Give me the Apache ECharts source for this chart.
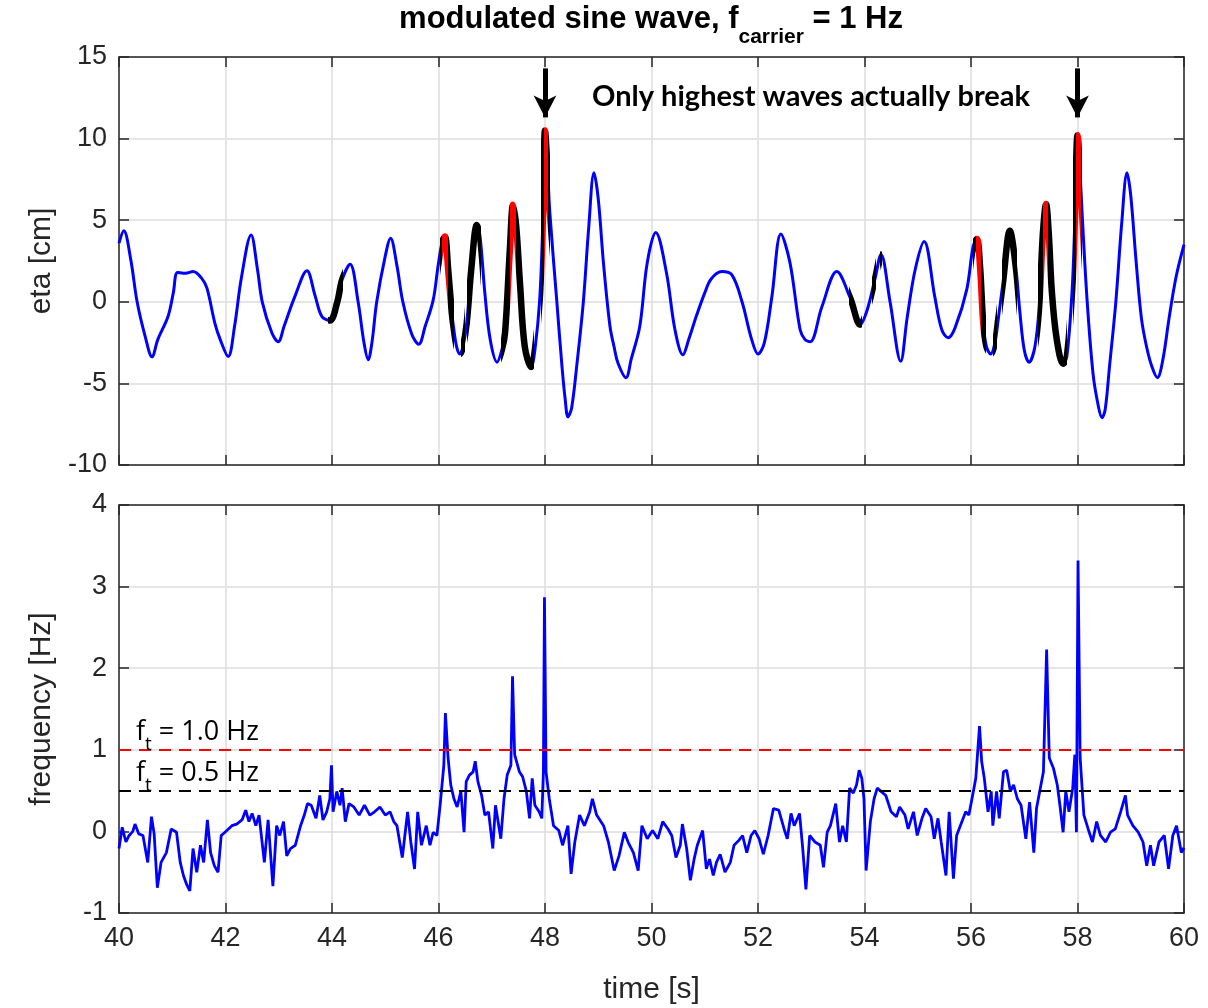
<!DOCTYPE html>
<html>
<head>
<meta charset="utf-8">
<script src="https://cdn.jsdelivr.net/npm/echarts@6/dist/echarts.min.js"></script>
<style>
html,body{margin:0;padding:0;background:#fff;}
#chart{width:1208px;height:1008px;}
</style>
</head>
<body>
<div id="chart"></div>
<script>
// ---- data ----
var xTicks = [40, 42, 44, 46, 48, 50, 52, 54, 56, 58, 60];
var etaTicks = [-10, -5, 0, 5, 10, 15];
var freqTicks = [-1, 0, 1, 2, 3, 4];

var etaT = [40.00,40.09,40.22,40.34,40.49,40.62,40.73,40.92,41.02,41.10,41.25,41.39,41.55,41.65,41.80,41.90,42.05,42.17,42.30,42.48,42.60,42.69,42.87,42.99,43.10,43.30,43.53,43.68,43.81,43.96,44.10,44.19,44.34,44.49,44.60,44.68,44.75,44.84,45.00,45.10,45.22,45.33,45.50,45.63,45.75,45.90,45.99,46.07,46.12,46.18,46.25,46.28,46.34,46.40,46.46,46.53,46.62,46.72,46.78,46.87,46.97,47.10,47.19,47.25,47.34,47.40,47.46,47.53,47.62,47.74,47.81,47.90,47.96,48.00,48.05,48.09,48.22,48.32,48.38,48.43,48.50,48.60,48.72,48.82,48.92,49.00,49.10,49.22,49.30,49.37,49.52,49.62,49.78,49.92,50.08,50.28,50.44,50.59,50.70,50.85,51.00,51.12,51.32,51.51,51.70,51.88,52.00,52.12,52.26,52.43,52.60,52.79,52.88,52.98,53.20,53.48,53.73,53.92,54.05,54.20,54.31,54.48,54.68,54.80,54.95,55.12,55.32,55.45,55.57,55.70,55.92,56.04,56.11,56.17,56.23,56.29,56.37,56.45,56.51,56.60,56.73,56.84,56.92,57.00,57.09,57.20,57.28,57.35,57.41,57.46,57.52,57.61,57.73,57.80,57.90,57.95,58.00,58.05,58.09,58.18,58.29,58.38,58.46,58.52,58.60,58.72,58.83,58.93,59.00,59.10,59.20,59.30,59.40,59.50,59.60,59.72,59.85,60.00];
var etaV = [3.6,4.35,2.6,0,-2.1,-3.37,-2.3,-0.9,0.55,1.8,1.75,1.85,1.45,0.85,-1.3,-2.3,-3.35,-1.5,1.5,4.1,2.0,0,-1.9,-2.45,-1.5,0.3,1.9,0.4,-0.9,-1.15,0,1.35,2.3,0,-2.5,-3.55,-2.5,0,2.8,3.9,2.2,0,-2.0,-2.6,-1.5,0.1,2.15,3.7,4.0,2.05,-0.7,-1.5,-2.75,-3.2,-2.75,-1.3,2.15,4.7,4.0,0.55,-2.3,-3.7,-2.95,-1.9,3.2,5.95,4.6,1.15,-2.75,-4.0,-2.95,0.1,5.0,10.5,8.0,5.5,0.1,-4.0,-6.0,-7.05,-6.5,-3.8,0,4.5,7.9,6.3,2.3,-1.5,-2.8,-3.75,-4.65,-3.5,-1.5,2.4,4.25,1.8,-1.7,-3.25,-2.3,-0.8,0.55,1.4,1.85,1.65,0,-2.3,-3.2,-2.5,0.3,4.15,2.4,-1.7,-2.3,-2.45,-0.3,1.85,0.25,-1.4,-0.5,1.45,2.9,0,-3.65,-1.0,1.95,3.7,0.3,-1.7,-2.2,-1.6,0.75,3.4,3.85,2.15,-1.3,-2.75,-3.2,-2.5,-1.1,1.15,4.35,2.15,-0.7,-2.95,-3.7,-2.75,-0.3,4.2,6.0,4.2,0.55,-2.3,-3.8,-3.35,0.75,5.0,10.2,7.8,5.2,0.1,-4.35,-6.2,-7.1,-6.6,-4.0,0,4.8,7.9,6.5,2.5,-1.0,-2.8,-4.0,-4.65,-3.6,-1.0,1.5,3.5];

// time intervals marked on the eta trace
var trackedRanges = [[43.93,44.20],[46.03,46.07],[46.18,46.29],[46.42,46.50],[46.53,46.80],[47.17,47.34],[47.46,47.80],[47.92,47.975],[48.065,48.09],[53.70,53.96],[54.15,54.22],[54.29,54.33],[56.03,56.09],[56.18,56.28],[56.41,56.48],[56.58,56.86],[57.26,57.35],[57.45,57.80],[57.91,57.975],[58.06,58.08]];
var breakingRanges = [[46.07,46.18],[47.34,47.46],[47.975,48.065],[56.09,56.18],[57.35,57.45],[57.975,58.06]];

var freqT = [40.00,40.06,40.13,40.19,40.26,40.30,40.37,40.45,40.54,40.61,40.66,40.72,40.79,40.89,40.98,41.08,41.15,41.21,41.27,41.33,41.39,41.46,41.53,41.59,41.66,41.72,41.79,41.86,41.92,41.99,42.12,42.21,42.31,42.38,42.44,42.50,42.57,42.63,42.73,42.80,42.89,42.96,43.02,43.09,43.15,43.22,43.31,43.41,43.48,43.54,43.61,43.70,43.77,43.83,43.90,43.96,43.99,44.02,44.09,44.15,44.19,44.25,44.32,44.41,44.51,44.61,44.71,44.80,44.90,45.00,45.09,45.16,45.22,45.32,45.42,45.48,45.55,45.61,45.68,45.77,45.84,45.90,45.97,46.03,46.10,46.13,46.18,46.23,46.29,46.35,46.42,46.48,46.52,46.58,46.65,46.69,46.74,46.81,46.87,46.94,47.02,47.07,47.17,47.23,47.29,47.36,47.39,47.43,47.52,47.58,47.65,47.71,47.76,47.81,47.89,47.94,47.97,47.99,48.02,48.08,48.16,48.26,48.33,48.43,48.49,48.56,48.65,48.74,48.84,48.89,48.97,49.10,49.19,49.30,49.39,49.49,49.56,49.66,49.75,49.82,49.92,50.02,50.12,50.21,50.31,50.38,50.46,50.54,50.58,50.66,50.73,50.80,50.86,50.96,51.03,51.09,51.16,51.22,51.29,51.38,51.48,51.55,51.64,51.71,51.79,51.87,51.94,52.02,52.10,52.19,52.29,52.39,52.49,52.55,52.62,52.68,52.78,52.84,52.90,52.97,53.07,53.17,53.23,53.30,53.36,53.46,53.53,53.59,53.66,53.72,53.79,53.85,53.90,53.95,53.99,54.03,54.11,54.18,54.24,54.31,54.40,54.50,54.60,54.66,54.76,54.82,54.92,54.99,55.08,55.15,55.25,55.31,55.38,55.44,55.53,55.59,55.67,55.73,55.83,55.90,55.96,56.03,56.09,56.16,56.20,56.25,56.32,56.38,56.41,56.48,56.53,56.61,56.67,56.74,56.80,56.87,56.94,57.03,57.10,57.18,57.23,57.29,57.36,57.42,57.47,57.55,57.62,57.67,57.73,57.78,57.84,57.91,57.95,57.98,58.01,58.05,58.12,58.20,58.28,58.36,58.43,58.53,58.62,58.71,58.81,58.90,58.94,59.04,59.14,59.23,59.30,59.37,59.43,59.53,59.63,59.71,59.79,59.86,59.95,60.00];
var freqV = [-0.21,0.05,-0.13,-0.05,0,0.09,-0.03,-0.05,-0.38,0.18,-0.03,-0.69,-0.38,-0.26,0.03,-0.01,-0.38,-0.54,-0.65,-0.73,-0.21,-0.5,-0.17,-0.38,0.14,-0.26,-0.42,-0.5,-0.05,-0.01,0.07,0.09,0.14,0.26,0.12,0.22,0.07,0.2,-0.38,0.14,-0.67,0.07,-0.05,0.12,-0.3,-0.21,-0.17,0.07,0.2,0.34,0.32,0.16,0.44,0.14,0.24,0.4,0.81,0.24,0.49,0.32,0.53,0.12,0.34,0.3,0.2,0.32,0.2,0.24,0.3,0.2,0.24,0.12,0.07,-0.32,0.24,-0.13,-0.46,0.24,-0.17,0.07,-0.17,-0.01,-0.05,0.32,0.81,1.45,0.9,0.57,0.4,0.3,0.49,-0.01,0.61,0.69,0.73,0.86,0.61,0.44,0.2,0.24,-0.21,0.32,-0.09,0.4,0.69,0.81,1.9,0.94,0.73,0.67,0.49,0.16,0.65,0.32,0.24,0.16,0.73,2.87,0.73,0.4,0.07,0.01,-0.17,0.07,-0.52,-0.13,0.2,0.07,0.24,0.4,0.2,0.07,-0.13,-0.48,-0.3,-0.01,-0.13,-0.26,-0.48,0.07,-0.09,0.01,-0.09,0.12,0.03,-0.05,-0.32,-0.17,0.09,-0.21,-0.6,-0.34,-0.17,0.01,-0.46,-0.34,-0.54,-0.38,-0.28,-0.5,-0.38,-0.17,-0.11,-0.05,-0.26,-0.05,0.01,-0.09,-0.28,-0.05,0.28,0.26,0.03,-0.09,0.22,0.07,0.22,-0.21,-0.71,-0.05,-0.13,-0.17,-0.44,-0.01,0.07,0.34,-0.13,0.07,-0.13,0.53,0.47,0.57,0.75,0.65,0.4,-0.48,0.12,0.4,0.53,0.49,0.44,0.24,0.18,0.3,0.2,0.03,0.24,-0.05,0.16,0.28,0.18,-0.09,0.16,-0.13,-0.54,0.24,-0.58,-0.05,0.12,0.24,0.2,0.44,0.65,1.29,0.86,0.65,0.24,0.49,0.07,0.49,0.16,0.73,0.75,0.49,0.57,0.4,0.32,-0.09,0.36,-0.26,0.28,0.49,0.73,2.23,0.9,0.77,0.57,0.32,-0.01,0.49,0.24,0.53,0.94,-0.01,3.32,0.9,0.2,0.03,-0.13,0.12,-0.05,-0.13,-0.01,0.03,0.24,0.44,0.2,0.07,-0.01,-0.13,-0.42,-0.17,-0.42,-0.13,-0.05,-0.46,-0.05,0.07,-0.26,-0.2];

var thresholds = [1.0, 0.5];

// ---- build ----
function zip(a, b) { return a.map(function (v, i) { return [v, b[i]]; }); }
var etaData = zip(etaT, etaV);
var freqData = zip(freqT, freqV);

var pieces = [];
trackedRanges.forEach(function (r) { pieces.push({ gte: r[0], lt: r[1], color: '#000000' }); });
breakingRanges.forEach(function (r) { pieces.push({ gte: r[0], lt: r[1], color: '#ff0000' }); });

var FONT = '"Liberation Sans", Arial, sans-serif';
var AX = '#262626';
var GRIDC = '#dcdcdc';
var TICKFS = 27;
var NAMEFS = 30;

function xAx(grid, pos, showLabel, split) {
  return {
    type: 'value', gridIndex: grid, position: pos, min: xTicks[0], max: xTicks[xTicks.length - 1], interval: 2,
    axisLine: { show: true, onZero: false, lineStyle: { color: AX, width: 1.5 } },
    axisTick: { show: true, inside: true, length: 10, lineStyle: { color: AX, width: 1.5 } },
    axisLabel: { show: showLabel, fontFamily: FONT, fontSize: TICKFS, color: AX, margin: 12 },
    splitLine: { show: split, lineStyle: { color: GRIDC, width: 1.5 } }
  };
}
function yAx(grid, pos, ticks, showLabel, split) {
  return {
    type: 'value', gridIndex: grid, position: pos, min: ticks[0], max: ticks[ticks.length - 1], interval: ticks[1] - ticks[0],
    axisLine: { show: true, onZero: false, lineStyle: { color: AX, width: 1.5 } },
    axisTick: { show: true, inside: true, length: 10, lineStyle: { color: AX, width: 1.5 } },
    axisLabel: { show: showLabel, fontFamily: FONT, fontSize: TICKFS, color: AX, margin: 12 },
    splitLine: { show: split, lineStyle: { color: GRIDC, width: 1.5 } }
  };
}

var xAxes = [xAx(0, 'bottom', false, true), xAx(0, 'top', false, false), xAx(1, 'bottom', true, true), xAx(1, 'top', false, false)];
xAxes[2].name = 'time [s]';
xAxes[2].nameLocation = 'middle';
xAxes[2].nameGap = 62;
xAxes[2].nameTextStyle = { fontFamily: FONT, fontSize: NAMEFS, color: AX };

var yAxes = [yAx(0, 'left', etaTicks, true, true), yAx(0, 'right', etaTicks, false, false), yAx(1, 'left', freqTicks, true, true), yAx(1, 'right', freqTicks, false, false)];
yAxes[0].name = 'eta [cm]';
yAxes[0].nameLocation = 'middle';
yAxes[0].nameGap = 62;
yAxes[0].nameTextStyle = { fontFamily: FONT, fontSize: NAMEFS, color: AX };
yAxes[2].name = 'frequency [Hz]';
yAxes[2].nameLocation = 'middle';
yAxes[2].nameGap = 62;
yAxes[2].nameTextStyle = { fontFamily: FONT, fontSize: NAMEFS, color: AX };

var subRich = function (fam, fs, sfs, lh, pad, bold) {
  return {
    b: { fontFamily: fam, fontSize: fs, fontWeight: bold ? 'bold' : 'normal', lineHeight: lh, verticalAlign: 'top', fill: '#000' },
    s: { fontFamily: fam, fontSize: sfs, fontWeight: bold ? 'bold' : 'normal', lineHeight: sfs, padding: [pad, 0, 0, 0], verticalAlign: 'top', fill: '#000' }
  };
};

var option = {
  animation: false,
  backgroundColor: '#ffffff',
  grid: [
    { left: 119, right: 24, top: 57, height: 408 },
    { left: 119, right: 24, top: 505, height: 408 }
  ],
  xAxis: xAxes,
  yAxis: yAxes,
  visualMap: [{
    type: 'piecewise', show: false, dimension: 0, seriesIndex: 1,
    pieces: pieces,
    outOfRange: { color: 'rgba(0,0,0,0)' }
  }],
  series: [
    {
      type: 'line', xAxisIndex: 0, yAxisIndex: 0, data: etaData, smooth: 0.35,
      showSymbol: false, lineStyle: { color: '#0000ff', width: 3 }, z: 2,
      markLine: {
        silent: true, symbol: ['none', 'arrow'], symbolSize: [17, 22],
        lineStyle: { color: '#000000', width: 5, type: 'solid' },
        label: { show: false },
        data: [
          [{ coord: [48, 14.3] }, { coord: [48, 11.3] }],
          [{ coord: [58, 14.3] }, { coord: [58, 11.3] }]
        ]
      }
    },
    {
      type: 'line', xAxisIndex: 0, yAxisIndex: 0, data: etaData, smooth: 0.35,
      showSymbol: false, lineStyle: { width: 6.5 }, z: 3
    },
    {
      type: 'line', xAxisIndex: 2, yAxisIndex: 2, data: freqData,
      showSymbol: false, lineStyle: { color: '#0000ff', width: 2.8 }, z: 3,
      markLine: {
        silent: true, symbol: ['none', 'none'],
        label: { show: false },
        data: [
          { yAxis: thresholds[0], lineStyle: { color: '#ff0000', width: 2, type: [12, 8] } },
          { yAxis: thresholds[1], lineStyle: { color: '#000000', width: 2, type: [12, 8] } }
        ]
      }
    }
  ],
  graphic: [
    {
      type: 'text', x: 651, y: 4, z: 10,
      style: {
        text: '{b|modulated sine wave, f}{s|carrier}{b| = 1 Hz}',
        textAlign: 'center', fill: '#000',
        rich: subRich(FONT, 31, 21, 36, 23, true)
      }
    },
    {
      type: 'text', x: 811, y: 97, z: 10,
      style: {
        text: 'Only highest waves actually break', textAlign: 'center', textVerticalAlign: 'middle',
        fontFamily: 'Lato, "Open Sans", sans-serif', fontWeight: 'bold', fontSize: 29, fill: '#000'
      }
    },
    {
      type: 'text', x: 136, y: 719, z: 10,
      style: {
        text: '{b|f}{s|t}{b| = 1.0 Hz}', fill: '#000',
        rich: subRich('"Open Sans", sans-serif', 27, 19, 34, 16, false)
      }
    },
    {
      type: 'text', x: 136, y: 760, z: 10,
      style: {
        text: '{b|f}{s|t}{b| = 0.5 Hz}', fill: '#000',
        rich: subRich('"Open Sans", sans-serif', 27, 19, 34, 16, false)
      }
    }
  ]
};

var chart = echarts.init(document.getElementById('chart'), null, { renderer: 'canvas' });
chart.setOption(option);
</script>
</body>
</html>
